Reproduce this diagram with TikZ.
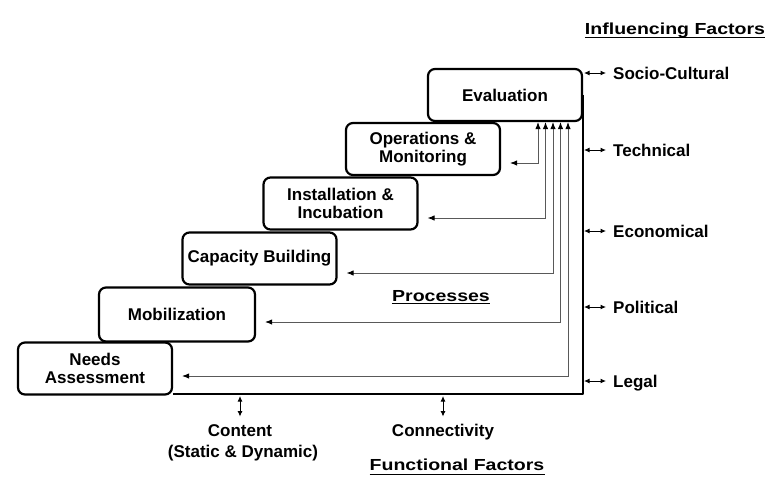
\documentclass[tikz,border=0pt]{standalone}
\usepackage{fontspec}
\setmainfont{Liberation Sans}
\newfontfamily\headfont[FakeStretch=1.22]{Liberation Sans}
\usetikzlibrary{arrows.meta}
\begin{document}
\begin{tikzpicture}[x=1pt,y=-1pt,
  box/.style={draw, line width=2.2pt, rounded corners=7pt, minimum width=154pt,
    minimum height=52pt, align=center, inner sep=2pt,
    font=\fontsize{17}{18}\selectfont\bfseries},
  fb/.style={draw=black!65, line width=0.9pt, {Latex[length=7pt,width=5.5pt,black]}-{Latex[length=7pt,width=5.5pt,black]}},
  outl/.style={line width=2.2pt, line join=round},
  dbl/.style={line width=1pt, {Latex[length=5.5pt,width=5pt]}-{Latex[length=5.5pt,width=5pt]}},
  fac/.style={inner sep=3pt, text height=12.2pt, text depth=0pt,
    font=\fontsize{17}{18}\selectfont\bfseries},
  head/.style={inner sep=0pt, font=\headfont\fontsize{16}{18}\selectfont\bfseries},
  uline/.style={line width=1.5pt}
]
\useasboundingbox (0,0) rectangle (770,485);

% process boxes
\node[box] (eval) at (505,95)    {Evaluation};
\node[box] (ops)  at (423,149)   {Operations \&\\Monitoring};
\node[box] (inst) at (340.5,203.5) {Installation \&\\Incubation};
\node[box] (cb)   at (259.5,258.5) {Capacity Building};
\node[box, minimum width=156pt, minimum height=54pt] (mob) at (177,314.5) {Mobilization};
\node[box] (na)   at (95,368.5)  {Needs\\Assessment};

% outline
\coordinate (br) at (583,394);
\draw[outl] (eval.east) -- (eval.east |- br) -- (na.east |- br);

% feedback arrows
\coordinate (f1) at (538,163);
\coordinate (f2) at (545.5,218);
\coordinate (f3) at (553,273);
\coordinate (f4) at (560.5,322);
\coordinate (f5) at (568,376);
\draw[fb, shorten <=9pt] (ops.east |- f1)  -| (eval.south -| f1);
\draw[fb, shorten <=9pt] (inst.east |- f2) -| (eval.south -| f2);
\draw[fb, shorten <=9pt] (cb.east |- f3)   -| (eval.south -| f3);
\draw[fb, shorten <=9pt] (mob.east |- f4)  -| (eval.south -| f4);
\draw[fb, shorten <=9pt] (na.east |- f5)   -| (eval.south -| f5);

% influencing factors
\node[fac, anchor=west] (soc)  at (610,73)  {Socio-Cultural};
\node[fac, anchor=west] (tech) at (610,150) {Technical};
\node[fac, anchor=west] (econ) at (610,231) {Economical};
\node[fac, anchor=west] (pol)  at (610,307) {Political};
\node[fac, anchor=west] (leg)  at (610,381) {Legal};
\foreach \n in {soc,tech,econ,pol,leg}{
  \draw[dbl, shorten <=1pt, shorten >=4pt] (\n.west -| br) -- (\n.west);
}

% functional factors
\node[fac, anchor=base] (content) at (240,436) {Content};
\node[fac, anchor=base] (stat) at (243,457) {(Static \& Dynamic)};
\node[fac, anchor=base] (conn) at (443,436) {Connectivity};
\draw[dbl, shorten <=2pt, shorten >=4pt] (content.north |- br) -- (content.north);
\draw[dbl, shorten <=2pt, shorten >=4pt] (conn.north |- br) -- (conn.north);

% headings
\node[head, anchor=base] (inf) at (675,34) {Influencing Factors};
\draw[uline] ([yshift=-3.7pt]inf.base west) -- ([yshift=-3.7pt]inf.base east);
\node[head, anchor=base] (proc) at (441,301) {Processes};
\draw[uline] ([yshift=-2.5pt]proc.base west) -- ([yshift=-2.5pt]proc.base east);
\node[head, anchor=base] (func) at (457,470.5) {Functional Factors};
\draw[uline] ([yshift=-4pt]func.base west) -- ([yshift=-4pt]func.base east);
\end{tikzpicture}
\end{document}
